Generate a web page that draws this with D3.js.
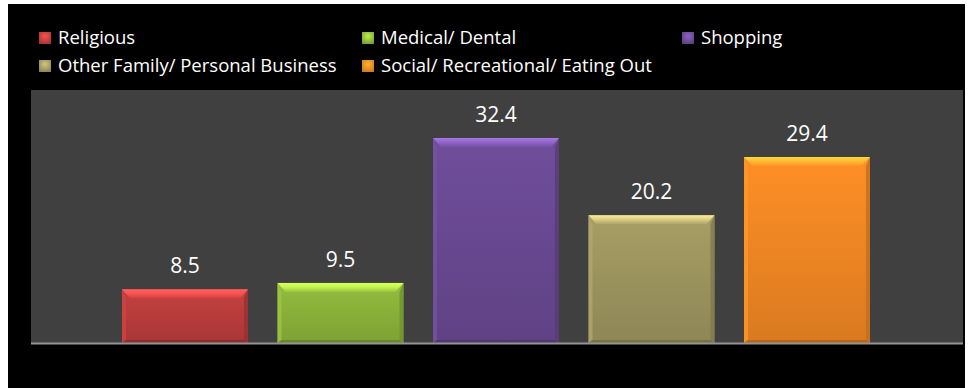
<!DOCTYPE html>
<html>
<head>
<meta charset="utf-8">
<script src="https://cdn.jsdelivr.net/npm/d3@7/dist/d3.min.js"></script>
<style>
  html, body { margin: 0; padding: 0; background: #ffffff; }
  svg { display: block; }
  text { font-family: "Open Sans", "Noto Sans", sans-serif; fill: #ffffff; }
</style>
</head>
<body>
<svg id="chart" width="977" height="388"></svg>
<script>
// Trip purposes and their shares (%)
const categories = [
  "Religious",
  "Medical/ Dental",
  "Shopping",
  "Other Family/ Personal Business",
  "Social/ Recreational/ Eating Out"
];
const values = [8.5, 9.5, 32.4, 20.2, 29.4];
const palette = ["#bb3d3c", "#8cb33a", "#6a4a93", "#9e9660", "#f28824"];
const yDomain = [0, 40];

const frame = { left: 8, top: 4, right: 965, bottom: 388 };
const plot = { left: 31, top: 90, right: 963, bottom: 343 };

const svg = d3.select("#chart");
const defs = svg.append("defs");

// outer black panel and grey plot area
svg.append("rect")
  .attr("x", frame.left).attr("y", frame.top)
  .attr("width", frame.right - frame.left).attr("height", frame.bottom - frame.top)
  .attr("fill", "#000000");
svg.append("rect")
  .attr("x", plot.left).attr("y", plot.top)
  .attr("width", plot.right - plot.left).attr("height", plot.bottom - plot.top)
  .attr("fill", "#404040");

const x = d3.scaleBand()
  .domain(categories)
  .range([107.25, 884.75])
  .paddingInner(0.19)
  .paddingOuter(0.095);
const y = d3.scaleLinear().domain(yDomain).range([plot.bottom, plot.top]);

// gradients for the bevelled bars and legend keys
categories.forEach((c, i) => {
  const base = d3.color(palette[i]);
  const body = defs.append("linearGradient")
    .attr("id", "body" + i).attr("x1", 0).attr("y1", 0).attr("x2", 0).attr("y2", 1);
  body.append("stop").attr("offset", 0).attr("stop-color", base.brighter(0.15));
  body.append("stop").attr("offset", 1).attr("stop-color", base.darker(0.3));

  const top = defs.append("linearGradient")
    .attr("id", "top" + i).attr("x1", 0).attr("y1", 0).attr("x2", 0).attr("y2", 1);
  top.append("stop").attr("offset", 0).attr("stop-color", base.brighter(1.3));
  top.append("stop").attr("offset", 0.45).attr("stop-color", base.brighter(0.9));
  top.append("stop").attr("offset", 1).attr("stop-color", base.brighter(0.25));

  const mk = defs.append("radialGradient")
    .attr("id", "mk" + i).attr("cx", 0.5).attr("cy", 0.35).attr("r", 0.7);
  mk.append("stop").attr("offset", 0).attr("stop-color", base.brighter(0.8));
  mk.append("stop").attr("offset", 1).attr("stop-color", base.darker(0.4));
});

const bevelTop = 9, bevelSide = 4, bevelBottom = 3;

const bars = svg.append("g").selectAll("g")
  .data(categories.map((c, i) => ({ c, v: values[i], i })))
  .join("g");

bars.each(function (d) {
  const g = d3.select(this);
  const x0 = x(d.c), w = x.bandwidth();
  const y0 = y(d.v), y1 = y(0), h = y1 - y0;
  const base = d3.color(palette[d.i]);

  g.append("rect")
    .attr("x", x0).attr("y", y0).attr("width", w).attr("height", h)
    .attr("fill", `url(#body${d.i})`);
  // left edge
  g.append("path")
    .attr("d", `M${x0},${y0}L${x0 + bevelSide},${y0 + bevelTop}L${x0 + bevelSide},${y1 - bevelBottom}L${x0},${y1}Z`)
    .attr("fill", base.brighter(0.3)).attr("opacity", 0.8);
  // right edge
  g.append("path")
    .attr("d", `M${x0 + w},${y0}L${x0 + w - bevelSide},${y0 + bevelTop}L${x0 + w - bevelSide},${y1 - bevelBottom}L${x0 + w},${y1}Z`)
    .attr("fill", base.darker(0.6)).attr("opacity", 0.8);
  // bottom edge
  g.append("path")
    .attr("d", `M${x0},${y1}L${x0 + bevelSide},${y1 - bevelBottom}L${x0 + w - bevelSide},${y1 - bevelBottom}L${x0 + w},${y1}Z`)
    .attr("fill", base.darker(0.8));
  // top highlight
  g.append("path")
    .attr("d", `M${x0},${y0}L${x0 + w},${y0}L${x0 + w - bevelSide - 4},${y0 + bevelTop}L${x0 + bevelSide + 4},${y0 + bevelTop}Z`)
    .attr("fill", `url(#top${d.i})`);
});

// value labels
svg.append("g").selectAll("text")
  .data(categories.map((c, i) => ({ c, v: values[i] })))
  .join("text")
  .attr("x", d => x(d.c) + x.bandwidth() / 2)
  .attr("y", d => y(d.v) - 16)
  .attr("text-anchor", "middle")
  .attr("font-size", 21)
  .text(d => d3.format(".1f")(d.v));

// category baseline
svg.append("line")
  .attr("x1", plot.left).attr("x2", plot.right)
  .attr("y1", y(0) + 0.5).attr("y2", y(0) + 0.5)
  .attr("stroke", "#949494").attr("stroke-width", 2);

// legend: three columns, two rows
const legendCols = [39, 362, 682];
const legendRows = [44, 72];
const legend = svg.append("g").selectAll("g")
  .data(categories)
  .join("g")
  .attr("transform", (d, i) => `translate(${legendCols[i % 3]},${legendRows[Math.floor(i / 3)]})`);
legend.append("rect")
  .attr("x", 0).attr("y", -12).attr("width", 12).attr("height", 12)
  .attr("fill", (d, i) => `url(#mk${i})`);
legend.append("text")
  .attr("x", 19).attr("y", 0)
  .attr("font-size", 18.5)
  .text(d => d);
</script>
</body>
</html>
